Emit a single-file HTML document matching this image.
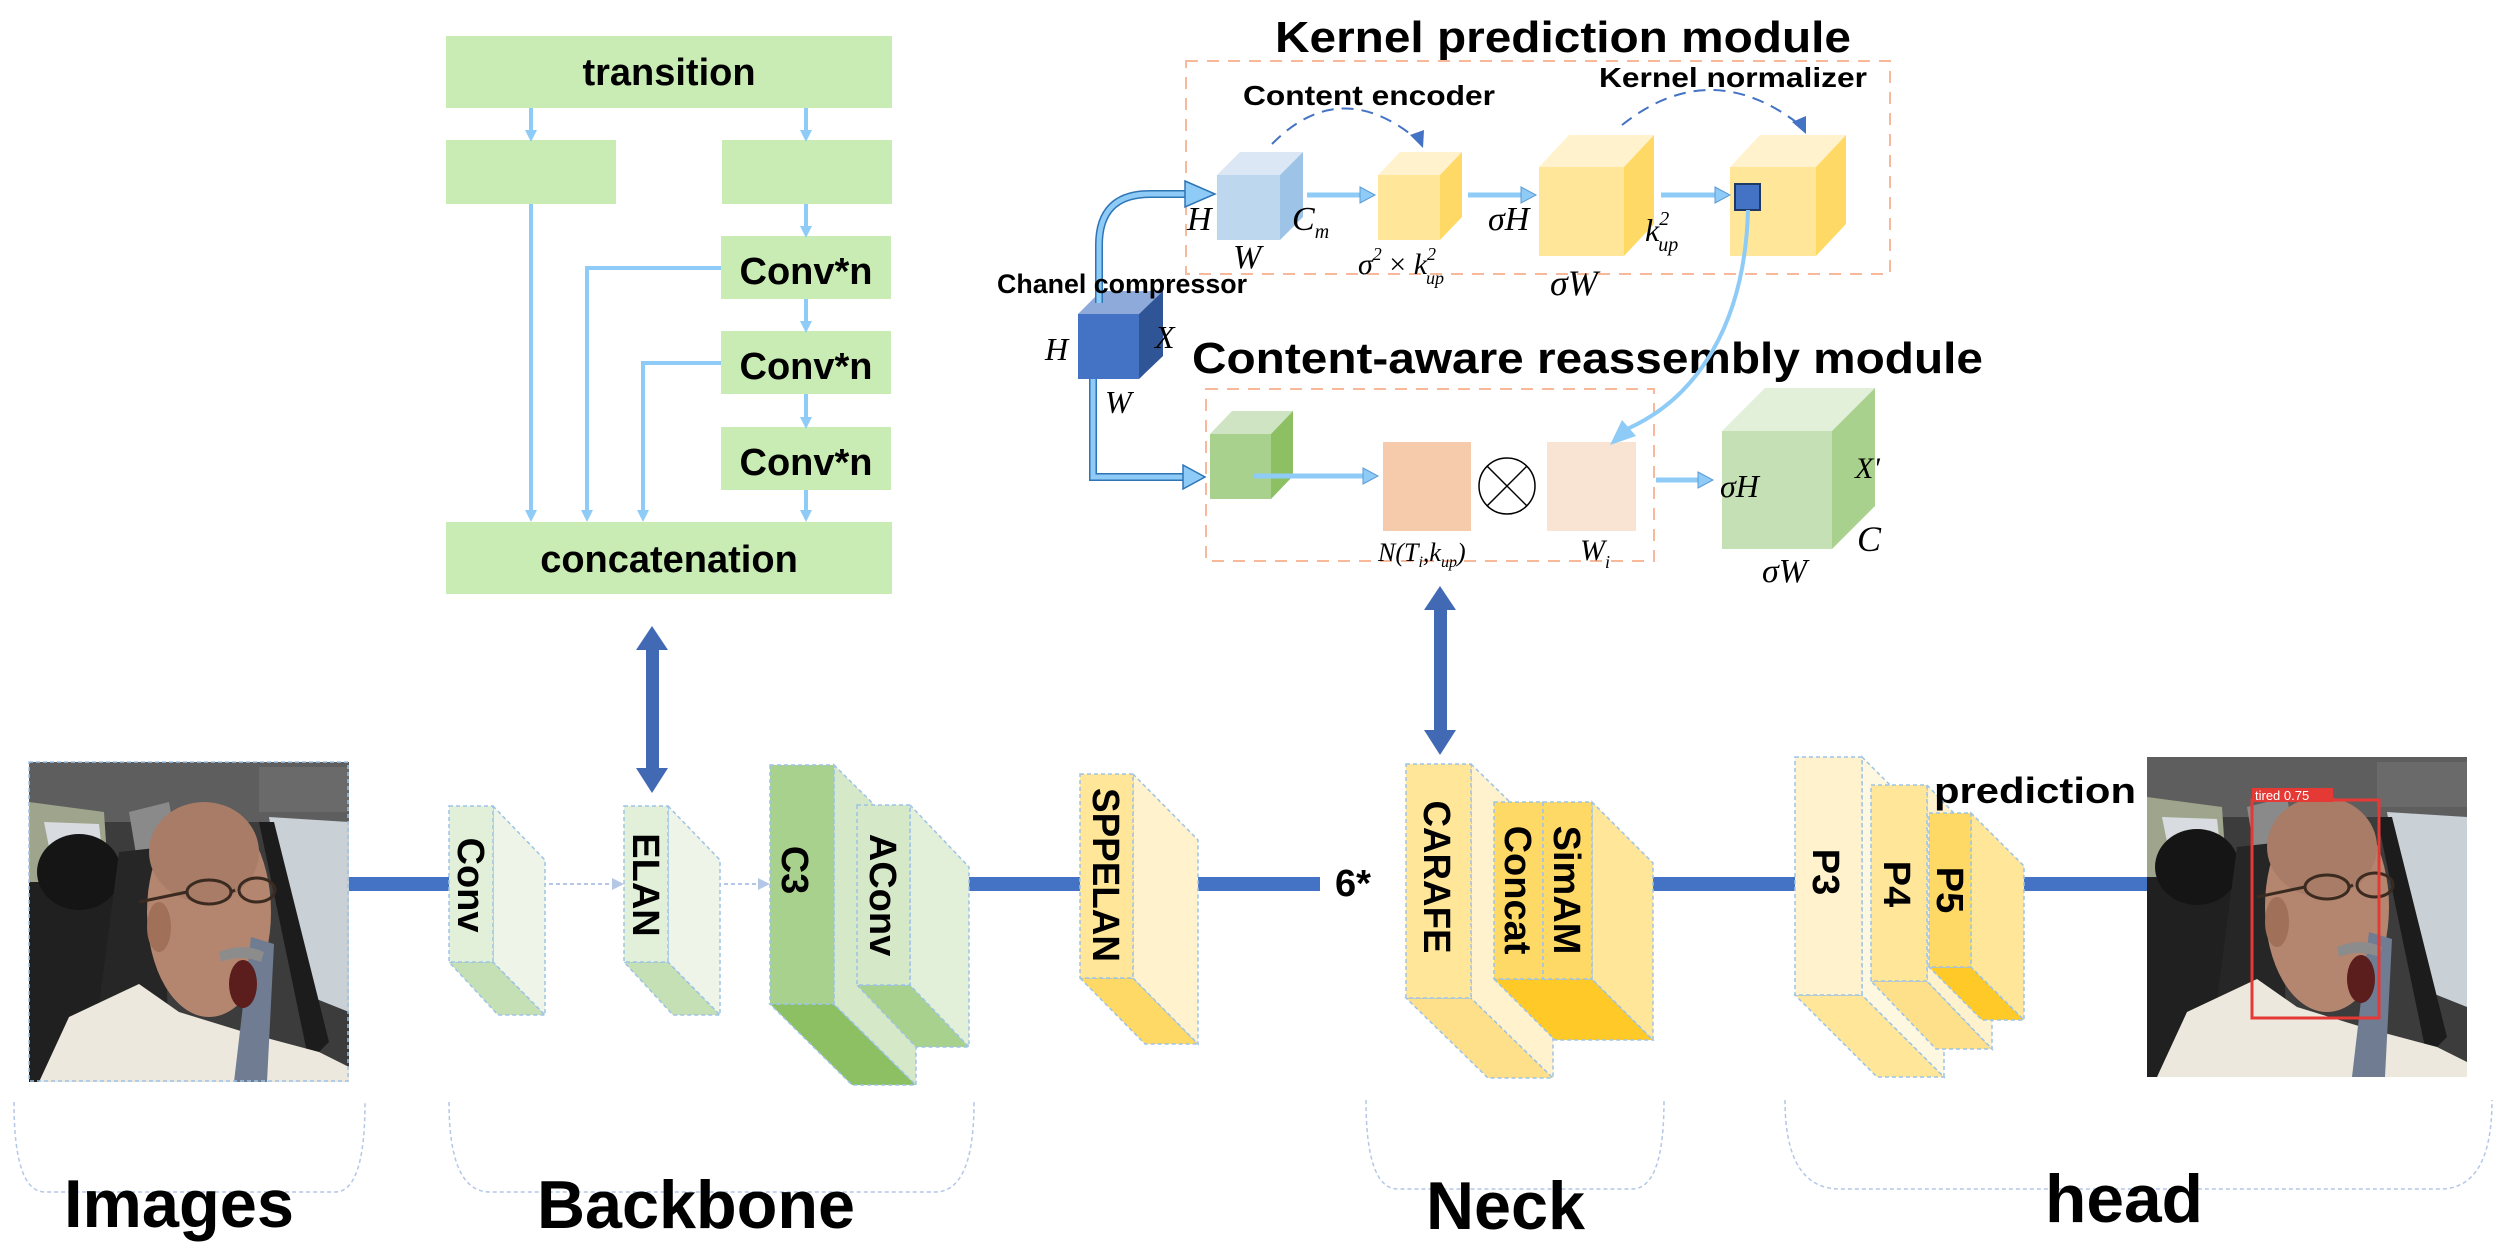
<!DOCTYPE html>
<html><head><meta charset="utf-8"><style>
html,body{margin:0;padding:0;background:#fff;}
svg{display:block;}
.t{font-family:"Liberation Sans",sans-serif;font-weight:bold;fill:#000;}
.m{font-family:"Liberation Serif",serif;font-style:italic;fill:#000;}
</style></head><body>
<svg width="2510" height="1255" viewBox="0 0 2510 1255" xmlns="http://www.w3.org/2000/svg">
<defs>
<g id="photo">
<rect x="0" y="0" width="320" height="320" fill="#3c3c3c"/>
<rect x="0" y="0" width="320" height="60" fill="#5e5e5e"/>
<rect x="230" y="5" width="90" height="45" fill="#6a6a6a"/>
<polygon points="0,40 75,50 80,125 0,130" fill="#9ea58c"/>
<polygon points="15,60 70,62 72,80 20,85" fill="#d8dbe0"/>
<polygon points="240,55 320,60 320,250 270,230" fill="#c9d0d6"/>
<polygon points="230,60 245,60 300,280 280,300" fill="#1c1c1c"/>
<polygon points="100,50 140,40 150,95 110,110" fill="#8a8a8a"/>
<rect x="0" y="120" width="110" height="200" fill="#202020"/>
<ellipse cx="50" cy="110" rx="42" ry="38" fill="#151515"/>
<polygon points="90,90 135,85 140,320 60,320" fill="#262626"/>
<ellipse cx="180" cy="150" rx="62" ry="105" fill="#b48670"/>
<ellipse cx="175" cy="90" rx="55" ry="50" fill="#a87c66"/>
<ellipse cx="130" cy="165" rx="12" ry="25" fill="#a07058"/>
<path d="M10,320 L40,255 L110,222 L150,250 L215,270 L290,290 L320,305 L320,320 Z" fill="#ece8dd"/>
<polygon points="205,320 222,175 245,182 238,320" fill="#6f7c92"/>
<path d="M190,190 Q215,180 235,190 L232,200 Q212,192 192,200 Z" fill="#8c8c8c"/>
<ellipse cx="214" cy="222" rx="14" ry="24" fill="#5c1d1d"/>
<g fill="none" stroke="#3a2a20" stroke-width="3"><ellipse cx="180" cy="130" rx="22" ry="12"/><ellipse cx="228" cy="128" rx="18" ry="12"/><line x1="110" y1="140" x2="158" y2="130"/><line x1="202" y1="130" x2="206" y2="128"/></g>
</g>
</defs>

<!-- ELAN detail -->
<g fill="#c9ebb4">
<rect x="446" y="36" width="446" height="72"/>
<rect x="446" y="140" width="170" height="64"/>
<rect x="722" y="140" width="170" height="64"/>
<rect x="721" y="236" width="170" height="63"/>
<rect x="721" y="331" width="170" height="63"/>
<rect x="721" y="427" width="170" height="63"/>
<rect x="446" y="522" width="446" height="72"/>
</g>
<g stroke="#8ecbf6" stroke-width="4" fill="none">
<line x1="531" y1="108" x2="531" y2="132"/>
<line x1="806" y1="108" x2="806" y2="132"/>
<line x1="531" y1="204" x2="531" y2="512"/>
<line x1="806" y1="204" x2="806" y2="228"/>
<line x1="806" y1="299" x2="806" y2="323"/>
<line x1="806" y1="394" x2="806" y2="419"/>
<line x1="806" y1="490" x2="806" y2="512"/>
<polyline points="721,268 587,268 587,512"/>
<polyline points="721,363 643,363 643,512"/>
</g>
<g fill="#8ecbf6">
<polygon points="525,130 537,130 531,142"/><polygon points="800,130 812,130 806,142"/>
<polygon points="800,226 812,226 806,238"/><polygon points="800,321 812,321 806,333"/>
<polygon points="800,417 812,417 806,429"/><polygon points="800,510 812,510 806,522"/>
<polygon points="525,510 537,510 531,522"/><polygon points="581,510 593,510 587,522"/><polygon points="637,510 649,510 643,522"/>
</g>
<text class="t" x="669" y="85" font-size="38" text-anchor="middle">transition</text>
<text class="t" x="806" y="284" font-size="38" text-anchor="middle">Conv*n</text>
<text class="t" x="806" y="379" font-size="38" text-anchor="middle">Conv*n</text>
<text class="t" x="806" y="475" font-size="38" text-anchor="middle">Conv*n</text>
<text class="t" x="669" y="572" font-size="38" text-anchor="middle">concatenation</text>

<!-- Kernel prediction module -->
<text class="t" x="1275" y="52" font-size="44" textLength="576" lengthAdjust="spacingAndGlyphs">Kernel prediction module</text>
<rect x="1186" y="61" width="704" height="213" fill="none" stroke="#f8b89a" stroke-width="2" stroke-dasharray="12 9"/>
<text class="t" x="1243" y="105" font-size="28" textLength="252" lengthAdjust="spacingAndGlyphs">Content encoder</text>
<text class="t" x="1599" y="87" font-size="28" textLength="268" lengthAdjust="spacingAndGlyphs">Kernel normalizer</text>
<g fill="none" stroke="#4472c4" stroke-width="2" stroke-dasharray="12 8">
<path d="M1272,144 Q1340,75 1418,140"/>
<path d="M1622,125 Q1710,55 1800,125"/>
</g>
<polygon points="1410,135 1424,130 1423,148" fill="#4472c4"/>
<polygon points="1792,122 1806,116 1806,134" fill="#4472c4"/>
<polygon points="1217,175 1240,152 1303,152 1280,175" fill="#dbe7f4"/>
<polygon points="1280,175 1303,152 1303,217 1280,240" fill="#9dc3e6"/>
<rect x="1217" y="175" width="63" height="65" fill="#bdd7ee"/>
<polygon points="1378,175 1400,152 1462,152 1440,175" fill="#fff2cc"/>
<polygon points="1440,175 1462,152 1462,217 1440,240" fill="#ffd966"/>
<rect x="1378" y="175" width="62" height="65" fill="#ffe699"/>
<polygon points="1539,167 1569,135 1654,135 1624,167" fill="#fff2cc"/>
<polygon points="1624,167 1654,135 1654,224 1624,256" fill="#ffd966"/>
<rect x="1539" y="167" width="85" height="89" fill="#ffe699"/>
<polygon points="1730,167 1760,135 1846,135 1816,167" fill="#fff2cc"/>
<polygon points="1816,167 1846,135 1846,224 1816,256" fill="#ffd966"/>
<rect x="1730" y="167" width="86" height="89" fill="#ffe699"/>
<rect x="1735" y="184" width="25" height="26" fill="#4472c4" stroke="#1f3864" stroke-width="2"/>
<g stroke="#8ecbf6" stroke-width="5">
<line x1="1307" y1="195" x2="1362" y2="195"/><line x1="1468" y1="195" x2="1523" y2="195"/><line x1="1661" y1="195" x2="1717" y2="195"/>
<line x1="1656" y1="480" x2="1700" y2="480"/>
</g>
<g fill="#8ecbf6" stroke="#5b9bd5" stroke-width="1">
<polygon points="1360,187 1375,195 1360,203"/><polygon points="1521,187 1536,195 1521,203"/><polygon points="1715,187 1730,195 1715,203"/>
<polygon points="1698,472 1713,480 1698,488"/>
</g>
<text class="m" x="1187" y="230" font-size="34">H</text>
<text class="m" x="1233" y="268" font-size="34">W</text>
<text class="m" x="1292" y="230" font-size="34">C<tspan font-size="20" dy="8">m</tspan></text>
<text class="m" x="1358" y="274" font-size="30">σ<tspan font-size="18" dy="-14">2</tspan><tspan dy="14" font-style="normal"> × </tspan>k<tspan font-size="18" dy="-14">2</tspan><tspan font-size="18" dx="-10" dy="24">up</tspan></text>
<text class="m" x="1488" y="230" font-size="34">σH</text>
<text class="m" x="1645" y="241" font-size="32">k<tspan font-size="20" dy="-16">2</tspan><tspan font-size="20" dx="-11" dy="26">up</tspan></text>
<text class="m" x="1550" y="295" font-size="36">σW</text>

<!-- compressor -->
<polygon points="1078,314 1101,291 1163,291 1139,314" fill="#8eaadb"/>
<polygon points="1139,314 1163,291 1163,356 1139,379" fill="#2f5597"/>
<rect x="1078" y="314" width="61" height="65" fill="#4472c4"/>
<path d="M1099,303 L1099,245 Q1099,194 1150,194 L1200,194" fill="none" stroke="#2e75b6" stroke-width="8"/>
<path d="M1099,303 L1099,245 Q1099,194 1150,194 L1200,194" fill="none" stroke="#8ecbf6" stroke-width="5"/>
<polygon points="1185,181 1215,194 1185,207" fill="#8ecbf6" stroke="#2e75b6" stroke-width="1.5"/>
<path d="M1093,379 L1093,477 L1195,477" fill="none" stroke="#2e75b6" stroke-width="8"/>
<path d="M1093,379 L1093,477 L1195,477" fill="none" stroke="#8ecbf6" stroke-width="5"/>
<polygon points="1183,465 1205,477 1183,489" fill="#8ecbf6" stroke="#2e75b6" stroke-width="1.5"/>
<text class="t" x="997" y="293" font-size="27" textLength="250" lengthAdjust="spacingAndGlyphs">Chanel compressor</text>
<text class="m" x="1045" y="360" font-size="32">H</text>
<text class="m" x="1155" y="348" font-size="32">X</text>
<text class="m" x="1105" y="413" font-size="32">W</text>

<!-- reassembly -->
<text class="t" x="1192" y="373" font-size="44" textLength="791" lengthAdjust="spacingAndGlyphs">Content-aware reassembly module</text>
<rect x="1206" y="389" width="448" height="172" fill="none" stroke="#f8b89a" stroke-width="2" stroke-dasharray="12 9"/>
<polygon points="1210,434 1232,411 1293,411 1271,434" fill="#cfe4c2"/>
<polygon points="1271,434 1293,411 1293,476 1271,499" fill="#8cc063"/>
<rect x="1210" y="434" width="61" height="65" fill="#a9d18e"/>
<line x1="1254" y1="476" x2="1365" y2="476" stroke="#8ecbf6" stroke-width="5"/>
<polygon points="1363,468 1378,476 1363,484" fill="#8ecbf6" stroke="#5b9bd5" stroke-width="1"/>
<rect x="1383" y="442" width="88" height="89" fill="#f6cbab"/>
<circle cx="1507" cy="486" r="28" fill="#fff" stroke="#000" stroke-width="1.5"/>
<line x1="1487" y1="466" x2="1527" y2="506" stroke="#000" stroke-width="1.5"/>
<line x1="1527" y1="466" x2="1487" y2="506" stroke="#000" stroke-width="1.5"/>
<rect x="1547" y="442" width="89" height="89" fill="#f9e4d4"/>
<text class="m" x="1378" y="561" font-size="26">N(T<tspan font-size="16" dy="6">i</tspan><tspan dy="-6">,k</tspan><tspan font-size="16" dy="6">up</tspan><tspan dy="-6">)</tspan></text>
<text class="m" x="1580" y="560" font-size="30">W<tspan font-size="18" dy="8">i</tspan></text>
<path d="M1748,210 C1745,320 1700,400 1620,432" fill="none" stroke="#8ecbf6" stroke-width="4"/>
<polygon points="1610,445 1622,420 1636,436" fill="#8ecbf6"/>
<polygon points="1722,431 1765,388 1875,388 1832,431" fill="#e2efd9"/>
<polygon points="1832,431 1875,388 1875,506 1832,549" fill="#a9d18e"/>
<rect x="1722" y="431" width="110" height="118" fill="#c5e0b4"/>
<text class="m" x="1720" y="497" font-size="32">σH</text>
<text class="m" x="1855" y="478" font-size="30">X'</text>
<text class="m" x="1857" y="551" font-size="36">C</text>
<text class="m" x="1762" y="582" font-size="34">σW</text>

<!-- double arrows -->
<g fill="#4169b4">
<rect x="646" y="646" width="13" height="128"/>
<polygon points="636,650 652,626 668,650"/><polygon points="636,768 652,793 668,768"/>
<rect x="1434" y="606" width="13" height="128"/>
<polygon points="1424,610 1440,586 1456,610"/><polygon points="1424,730 1440,755 1456,730"/>
</g>

<!-- main line -->
<g fill="#4472c4">
<rect x="348" y="877" width="102" height="14"/>
<rect x="969" y="877" width="111" height="14"/>
<rect x="1198" y="877" width="122" height="14"/>
<rect x="1653" y="877" width="142" height="14"/>
<rect x="2024" y="877" width="124" height="14"/>
</g>
<line x1="493" y1="884" x2="615" y2="884" stroke="#b4c7e7" stroke-width="2" stroke-dasharray="4 3"/>
<polygon points="612,878 624,884 612,890" fill="#b4c7e7"/>
<line x1="668" y1="884" x2="760" y2="884" stroke="#b4c7e7" stroke-width="2" stroke-dasharray="4 3"/>
<polygon points="758,878 770,884 758,890" fill="#b4c7e7"/>

<!-- images -->
<use href="#photo" transform="translate(29,762)"/>
<rect x="29" y="762" width="319" height="319" fill="none" stroke="#9dc3e6" stroke-width="1.5" stroke-dasharray="4 3"/>
<use href="#photo" transform="translate(2147,757)"/>
<rect x="2252" y="800" width="127" height="218" fill="none" stroke="#e53935" stroke-width="3"/>
<rect x="2252" y="788" width="81" height="14" fill="#e53935"/>
<text x="2255" y="800" font-family="Liberation Sans, sans-serif" font-size="13" fill="#fff">tired  0.75</text>

<g stroke="#9dc3e6" stroke-width="1.5" stroke-dasharray="4 3">
<polygon points="449,962 493,962 545,1015 498,1015" fill="#c5e0b4"/>
<polygon points="493,806 545,860 545,1015 493,962" fill="#eef5e8"/>
<rect x="449" y="806" width="44" height="156" fill="#e2efd9"/>
<polygon points="624,962 668,962 720,1015 673,1015" fill="#c5e0b4"/>
<polygon points="668,806 720,860 720,1015 668,962" fill="#eef5e8"/>
<rect x="624" y="806" width="44" height="156" fill="#e2efd9"/>
<polygon points="770,1004 834,1004 916,1085 852,1085" fill="#8dc063"/>
<polygon points="834,765 916,846 916,1085 834,1004" fill="#d5e8c8"/>
<rect x="770" y="765" width="64" height="239" fill="#a9d18e"/>
<polygon points="857,985 910,985 969,1047 916,1047" fill="#a9d18e"/>
<polygon points="910,805 969,867 969,1047 910,985" fill="#e2efd9"/>
<rect x="857" y="805" width="53" height="180" fill="#d5e8c8"/>
<polygon points="1080,978 1133,978 1198,1044 1145,1044" fill="#ffd966"/>
<polygon points="1133,774 1198,840 1198,1044 1133,978" fill="#fff2cc"/>
<rect x="1080" y="774" width="53" height="204" fill="#ffe699"/>
<polygon points="1406,998 1471,998 1553,1078 1488,1078" fill="#ffe08a"/>
<polygon points="1471,764 1553,844 1553,1078 1471,998" fill="#fff2cc"/>
<rect x="1406" y="764" width="65" height="234" fill="#ffe699"/>
<polygon points="1494,979 1592,979 1653,1040 1555,1040" fill="#ffca28"/>
<polygon points="1592,802 1653,863 1653,1040 1592,979" fill="#ffe699"/>
<rect x="1494" y="802" width="49" height="177" fill="#ffd966"/>
<rect x="1543" y="802" width="49" height="177" fill="#ffd966"/>
<polygon points="1795,995 1862,995 1944,1077 1877,1077" fill="#ffe699"/>
<polygon points="1862,757 1944,839 1944,1077 1862,995" fill="#fff8e0"/>
<rect x="1795" y="757" width="67" height="238" fill="#fff2cc"/>
<polygon points="1871,981 1927,981 1992,1049 1936,1049" fill="#ffe08a"/>
<polygon points="1927,785 1992,853 1992,1049 1927,981" fill="#fff2cc"/>
<rect x="1871" y="785" width="56" height="196" fill="#ffe699"/>
<polygon points="1929,967 1971,967 2024,1020 1982,1020" fill="#ffca28"/>
<polygon points="1971,813 2024,866 2024,1020 1971,967" fill="#ffe699"/>
<rect x="1929" y="813" width="42" height="154" fill="#ffd966"/>
</g>

<g class="t" font-size="38">
<text transform="translate(458,885) rotate(90)" text-anchor="middle">Conv</text>
<text transform="translate(633,885) rotate(90)" text-anchor="middle">ELAN</text>
<text transform="translate(782,870) rotate(90)" text-anchor="middle">C3</text>
<text transform="translate(870,895) rotate(90)" text-anchor="middle">AConv</text>
<text transform="translate(1093,875) rotate(90)" text-anchor="middle" textLength="174" lengthAdjust="spacingAndGlyphs">SPPELAN</text>
<text transform="translate(1424,877) rotate(90)" text-anchor="middle" textLength="153" lengthAdjust="spacingAndGlyphs">CARAFE</text>
<text transform="translate(1505,890) rotate(90)" text-anchor="middle">Concat</text>
<text transform="translate(1554,890) rotate(90)" text-anchor="middle">SimAM</text>
<text transform="translate(1813,872) rotate(90)" text-anchor="middle">P3</text>
<text transform="translate(1884,884) rotate(90)" text-anchor="middle">P4</text>
<text transform="translate(1937,890) rotate(90)" text-anchor="middle">P5</text>
</g>
<text class="t" x="1335" y="896" font-size="38">6*</text>
<text class="t" x="1934" y="803" font-size="36" textLength="202" lengthAdjust="spacingAndGlyphs">prediction</text>

<g fill="none" stroke="#b4c7e7" stroke-width="1.5" stroke-dasharray="4 3">
<path d="M14,1102 Q14,1192 45,1192 L335,1192 Q365,1192 365,1102"/>
<path d="M449,1102 Q449,1192 490,1192 L935,1192 Q974,1192 974,1102"/>
<path d="M1366,1100 Q1366,1189 1398,1189 L1632,1189 Q1664,1189 1664,1100"/>
<path d="M1785,1100 Q1785,1189 1840,1189 L2440,1189 Q2492,1189 2492,1100"/>
</g>
<g class="t" font-size="68">
<text x="64" y="1227" textLength="230" lengthAdjust="spacingAndGlyphs">Images</text>
<text x="537" y="1228" textLength="318" lengthAdjust="spacingAndGlyphs">Backbone</text>
<text x="1426" y="1229" textLength="159" lengthAdjust="spacingAndGlyphs">Neck</text>
<text x="2045" y="1222" textLength="158" lengthAdjust="spacingAndGlyphs">head</text>
</g>
</svg>
</body></html>
